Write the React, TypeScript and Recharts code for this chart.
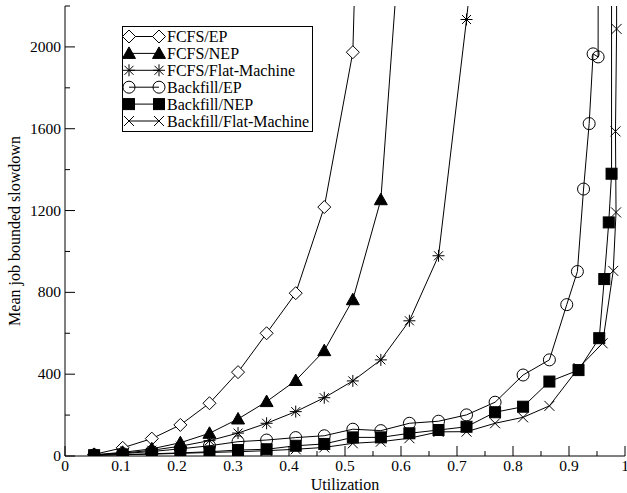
import React from "react";
import { Legend, Line, LineChart, XAxis, YAxis } from "recharts";

// utilization (x) and mean bounded slowdown (y) for each scheduler
const fcfsEpX = [0.052, 0.103, 0.155, 0.206, 0.258, 0.309, 0.36, 0.412, 0.463, 0.514, 0.564];
const fcfsEpY = [8, 40, 85, 152, 258, 410, 600, 796, 1217, 1974, 6900];

const fcfsNepX = [0.052, 0.103, 0.155, 0.206, 0.258, 0.309, 0.36, 0.412, 0.463, 0.514, 0.564, 0.615];
const fcfsNepY = [6, 18, 35, 65, 111, 181, 266, 369, 515, 764, 1253, 3170];

const fcfsFlatX = [0.052, 0.103, 0.155, 0.206, 0.258, 0.309, 0.36, 0.412, 0.463, 0.514, 0.564, 0.615, 0.667, 0.717, 0.768];
const fcfsFlatY = [5, 14, 28, 48, 75, 112, 160, 217, 285, 367, 470, 661, 979, 2134, 3440];

const bfEpX = [0.052, 0.103, 0.155, 0.206, 0.258, 0.309, 0.36, 0.412, 0.463, 0.514, 0.564, 0.615, 0.667, 0.717, 0.768, 0.818, 0.865, 0.896, 0.915, 0.926, 0.936, 0.943, 0.952, 0.953];
const bfEpY = [5, 12, 22, 35, 50, 70, 78, 90, 99, 131, 124, 160, 170, 201, 263, 396, 470, 740, 902, 1305, 1625, 1966, 1951, 8000];

const bfNepX = [0.052, 0.103, 0.155, 0.206, 0.258, 0.309, 0.36, 0.412, 0.463, 0.514, 0.564, 0.615, 0.667, 0.717, 0.768, 0.818, 0.865, 0.917, 0.954, 0.963, 0.971, 0.976, 0.976];
const bfNepY = [4, 7, 11, 15, 21, 29, 33, 50, 59, 91, 91, 111, 127, 143, 214, 241, 364, 420, 576, 865, 1142, 1380, 9000];

const bfFlatX = [0.052, 0.103, 0.155, 0.206, 0.258, 0.309, 0.36, 0.412, 0.463, 0.514, 0.564, 0.615, 0.667, 0.717, 0.768, 0.818, 0.865, 0.917, 0.96, 0.979, 0.984, 0.983, 0.985, 0.985];
const bfFlatY = [3, 6, 9, 13, 17, 21, 26, 33, 42, 62, 70, 87, 118, 119, 160, 189, 245, 430, 551, 905, 1191, 1587, 2088, 9000];

const xMajor = [0, 0.1, 0.2, 0.3, 0.4, 0.5, 0.6, 0.7, 0.8, 0.9, 1];
const xMinor = [0.05, 0.15, 0.25, 0.35, 0.45, 0.55, 0.65, 0.75, 0.85, 0.95];
const yMajor = [0, 400, 800, 1200, 1600, 2000];
const yMinor = [200, 600, 1000, 1400, 1800, 2200];

const FONT = "'Liberation Serif', 'DejaVu Serif', serif";

type Shape = "diamond" | "triangle" | "star" | "circle" | "square" | "cross";

function Marker({ shape, cx, cy }: { shape: Shape; cx: number; cy: number }) {
  if (cx == null || cy == null || isNaN(cx) || isNaN(cy)) return <g />;
  const s = { stroke: "#000", strokeWidth: 1 };
  switch (shape) {
    case "diamond":
      return <polygon points={`${cx},${cy - 6.5} ${cx + 6.5},${cy} ${cx},${cy + 6.5} ${cx - 6.5},${cy}`} fill="#fff" {...s} />;
    case "triangle":
      return <polygon points={`${cx},${cy - 6.5} ${cx + 6.5},${cy + 5} ${cx - 6.5},${cy + 5}`} fill="#000" {...s} />;
    case "circle":
      return <circle cx={cx} cy={cy} r={6} fill="none" {...s} />;
    case "square":
      return <rect x={cx - 5.5} y={cy - 5.5} width={11} height={11} fill="#000" {...s} />;
    case "cross":
      return (
        <g {...s}>
          <line x1={cx - 5} y1={cy - 5} x2={cx + 5} y2={cy + 5} />
          <line x1={cx - 5} y1={cy + 5} x2={cx + 5} y2={cy - 5} />
        </g>
      );
    default:
      return (
        <g {...s}>
          <line x1={cx} y1={cy - 6} x2={cx} y2={cy + 6} />
          <line x1={cx - 6} y1={cy} x2={cx + 6} y2={cy} />
          <line x1={cx - 4.5} y1={cy - 4.5} x2={cx + 4.5} y2={cy + 4.5} />
          <line x1={cx - 4.5} y1={cy + 4.5} x2={cx + 4.5} y2={cy - 4.5} />
        </g>
      );
  }
}

const toPoints = (xs: number[], ys: number[]) => xs.map((u, i) => ({ u, v: ys[i] }));

const series: { name: string; shape: Shape; data: { u: number; v: number }[] }[] = [
  { name: "FCFS/EP", shape: "diamond", data: toPoints(fcfsEpX, fcfsEpY) },
  { name: "FCFS/NEP", shape: "triangle", data: toPoints(fcfsNepX, fcfsNepY) },
  { name: "FCFS/Flat-Machine", shape: "star", data: toPoints(fcfsFlatX, fcfsFlatY) },
  { name: "Backfill/EP", shape: "circle", data: toPoints(bfEpX, bfEpY) },
  { name: "Backfill/NEP", shape: "square", data: toPoints(bfNepX, bfNepY) },
  { name: "Backfill/Flat-Machine", shape: "cross", data: toPoints(bfFlatX, bfFlatY) },
];

const fmtX = (v: number) => (v === 0 ? "0" : v === 1 ? "1" : v.toFixed(1));

function BottomTick({ x, y, payload }: any) {
  const major = xMajor.includes(payload.value);
  return (
    <g>
      <line x1={x} y1={y} x2={x} y2={y - (major ? 10 : 5)} stroke="#000" />
      {major && (
        <text x={x} y={y + 15} textAnchor="middle" fontSize={15.5} fontFamily={FONT} fill="#000">
          {fmtX(payload.value)}
        </text>
      )}
    </g>
  );
}

function TopTick({ x, y, payload }: any) {
  const major = xMajor.includes(payload.value);
  return <line x1={x} y1={y} x2={x} y2={y + (major ? 10 : 5)} stroke="#000" />;
}

function LeftTick({ x, y, payload }: any) {
  const major = yMajor.includes(payload.value);
  return (
    <g>
      <line x1={x} y1={y} x2={x + (major ? 10 : 5)} y2={y} stroke="#000" />
      {major && (
        <text x={x - 4} y={y + 5} textAnchor="end" fontSize={15.5} fontFamily={FONT} fill="#000">
          {payload.value}
        </text>
      )}
    </g>
  );
}

function RightTick({ x, y, payload }: any) {
  const major = yMajor.includes(payload.value);
  return <line x1={x} y1={y} x2={x - (major ? 10 : 5)} y2={y} stroke="#000" />;
}

function LegendBox() {
  return (
    <svg width={192} height={107} style={{ display: "block" }}>
      <rect x={0.5} y={0.5} width={190} height={105} fill="#fff" stroke="#000" />
      {series.map((s, i) => {
        const cy = 10.5 + i * 16.9;
        return (
          <g key={s.name}>
            <line x1={7} y1={cy} x2={37} y2={cy} stroke="#000" />
            <Marker shape={s.shape} cx={7} cy={cy} />
            <Marker shape={s.shape} cx={37} cy={cy} />
            <text x={45} y={cy + 5.5} fontSize={16} fontFamily={FONT} fill="#000">
              {s.name}
            </text>
          </g>
        );
      })}
    </svg>
  );
}

export default function App() {
  const xTicks = [...xMajor, ...xMinor].sort((a, b) => a - b);
  const yTicks = [...yMajor, ...yMinor].sort((a, b) => a - b);
  return (
    <div style={{ position: "absolute", left: 0, top: 0, background: "#fff" }}>
      <LineChart width={627} height={493} margin={{ top: 6, right: 2, left: 20, bottom: 0 }}>
        <XAxis
          xAxisId="b"
          type="number"
          dataKey="u"
          domain={[0, 1]}
          ticks={xTicks}
          interval={0}
          allowDataOverflow
          height={37}
          stroke="#000"
          tickLine={false}
          tickSize={0}
          tickMargin={0}
          tick={<BottomTick />}
          label={{ value: "Utilization", position: "insideBottom", offset: 3, fontSize: 16, fontFamily: FONT, fill: "#000" }}
        />
        <XAxis
          xAxisId="t"
          orientation="top"
          type="number"
          dataKey="u"
          domain={[0, 1]}
          ticks={xTicks}
          interval={0}
          allowDataOverflow
          height={0}
          stroke="#000"
          tickLine={false}
          tickSize={0}
          tickMargin={0}
          tick={<TopTick />}
        />
        <YAxis
          yAxisId="l"
          type="number"
          domain={[0, 2200]}
          ticks={yTicks}
          interval={0}
          allowDataOverflow
          width={45}
          stroke="#000"
          tickLine={false}
          tickSize={0}
          tickMargin={0}
          tick={<LeftTick />}
          label={{
            content: (p: any) => {
              const vb = p.viewBox;
              const cx = vb.x - 6;
              const cy = vb.y + vb.height / 2;
              return (
                <text
                  x={cx}
                  y={cy}
                  transform={`rotate(-90, ${cx}, ${cy})`}
                  textAnchor="middle"
                  dominantBaseline="central"
                  fontSize={16}
                  fontFamily={FONT}
                  fill="#000"
                >
                  Mean job bounded slowdown
                </text>
              );
            },
          }}
        />
        <YAxis
          yAxisId="r"
          orientation="right"
          type="number"
          domain={[0, 2200]}
          ticks={yTicks}
          interval={0}
          allowDataOverflow
          width={0}
          stroke="#000"
          tickLine={false}
          tickSize={0}
          tickMargin={0}
          tick={<RightTick />}
        />
        <Legend
          layout="vertical"
          align="center"
          verticalAlign="middle"
          wrapperStyle={{ left: 122, top: 26, width: 192, height: 107 }}
          content={() => <LegendBox />}
        />
        {series.map((s) => (
          <Line
            key={s.name}
            name={s.name}
            xAxisId="b"
            yAxisId="l"
            data={s.data}
            dataKey="v"
            type="linear"
            stroke="#000"
            strokeWidth={1}
            isAnimationActive={false}
            activeDot={false}
            dot={(p: any) => (
              <Marker key={`${s.name}-${p.index}`} shape={s.shape} cx={p.cx} cy={p.cy} />
            )}
          />
        ))}
      </LineChart>
    </div>
  );
}
